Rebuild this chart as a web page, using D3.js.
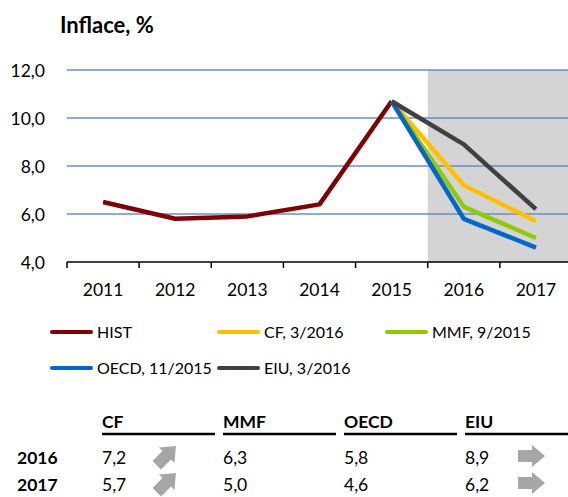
<!DOCTYPE html>
<html>
<head>
<meta charset="utf-8">
<script src="https://cdn.jsdelivr.net/npm/d3@7"></script>
<style>
  body { margin: 0; background: #fff; }
  svg { display: block; font-family: Lato, "Open Sans", sans-serif; }
</style>
</head>
<body>
<svg width="568" height="497"></svg>
<script>
// data
const years = ["2011", "2012", "2013", "2014", "2015", "2016", "2017"];
const histYears = ["2011", "2012", "2013", "2014", "2015"];
const histValues = [6.5, 5.8, 5.9, 6.4, 10.7];
const fcYears = ["2015", "2016", "2017"];
const cfValues = [10.7, 7.2, 5.7];
const mmfValues = [10.7, 6.3, 5.0];
const oecdValues = [10.7, 5.8, 4.6];
const eiuValues = [10.7, 8.9, 6.2];
const seriesNames = ["HIST", "CF, 3/2016", "MMF, 9/2015", "OECD, 11/2015", "EIU, 3/2016"];
const seriesColors = ["#7f0000", "#ffc000", "#92c800", "#0066cc", "#404040"];
const yTicks = [4, 6, 8, 10, 12];
const tableCols = ["CF", "MMF", "OECD", "EIU"];
const tableRows = ["2016", "2017"];
const table2016 = [7.2, 6.3, 5.8, 8.9];
const table2017 = [5.7, 5.0, 4.6, 6.2];
// arrow per column: angle in degrees, null = none
const arrowAngles = [-45, null, null, 0];

const loc = d3.formatLocale({ decimal: ",", thousands: " ", grouping: [3], currency: ["", ""] });
const fmt = loc.format(".1f");

const svg = d3.select("svg");
const plot = { left: 67, right: 572, top: 70, bottom: 262 };

const x = d3.scaleBand().domain(years).range([plot.left, plot.right]);
const y = d3.scaleLinear().domain([4, 12]).range([plot.bottom, plot.top]);
const cx = d => x(d) + x.bandwidth() / 2;

// title
svg.append("text")
  .attr("x", 60).attr("y", 33)
  .attr("font-weight", "bold").attr("font-size", 22)
  .text("Inflace, %");

// forecast shading
svg.append("rect")
  .attr("x", x("2016")).attr("y", plot.top)
  .attr("width", plot.right - x("2016")).attr("height", plot.bottom - plot.top)
  .attr("fill", "#d4d4d4");

// gridlines
svg.append("g").selectAll("line")
  .data(yTicks.filter(d => d > 4))
  .join("line")
  .attr("x1", plot.left).attr("x2", plot.right)
  .attr("y1", d => y(d)).attr("y2", d => y(d))
  .attr("stroke", "#6a8fc6").attr("stroke-width", 1.5);

// y labels
const yAxis = svg.append("g")
  .attr("transform", "translate(" + (plot.left - 19) + ",0)")
  .call(d3.axisLeft(y).tickValues(yTicks).tickSize(0).tickFormat(fmt));
yAxis.select(".domain").remove();
yAxis.selectAll("text").attr("font-size", 17.5).attr("font-family", "Lato").attr("fill", "#000").attr("dy", "0.35em");

// x axis
const xAxis = svg.append("g")
  .attr("transform", "translate(0," + plot.bottom + ")")
  .call(d3.axisBottom(x).tickSize(0).tickPadding(22));
xAxis.select(".domain").remove();
xAxis.selectAll("text").attr("font-size", 17.5).attr("font-family", "Lato").attr("fill", "#000");
svg.append("line")
  .attr("x1", plot.left).attr("x2", plot.right)
  .attr("y1", plot.bottom).attr("y2", plot.bottom)
  .attr("stroke", "#000").attr("stroke-width", 1.5);
svg.append("g").selectAll("line")
  .data(years)
  .join("line")
  .attr("x1", d => x(d)).attr("x2", d => x(d))
  .attr("y1", plot.bottom).attr("y2", plot.bottom + 6)
  .attr("stroke", "#000").attr("stroke-width", 1.5);

// lines
const line = d3.line().x(d => cx(d[0])).y(d => y(d[1]));
const seriesData = [
  histYears.map((d, i) => [d, histValues[i]]),
  fcYears.map((d, i) => [d, cfValues[i]]),
  fcYears.map((d, i) => [d, mmfValues[i]]),
  fcYears.map((d, i) => [d, oecdValues[i]]),
  fcYears.map((d, i) => [d, eiuValues[i]])
];
svg.append("g").selectAll("path")
  .data(seriesData)
  .join("path")
  .attr("d", line)
  .attr("fill", "none")
  .attr("stroke", (d, i) => seriesColors[i])
  .attr("stroke-width", 4.5)
  .attr("stroke-linejoin", "round");

// legend
const legendPos = [[50, 332], [217, 332], [385, 332], [50, 368], [217, 368]];
const leg = svg.append("g").selectAll("g")
  .data(seriesNames)
  .join("g")
  .attr("transform", (d, i) => "translate(" + legendPos[i][0] + "," + legendPos[i][1] + ")");
leg.append("line")
  .attr("x1", 2).attr("x2", 41)
  .attr("stroke", (d, i) => seriesColors[i])
  .attr("stroke-width", 4).attr("stroke-linecap", "round");
leg.append("text")
  .attr("x", 47).attr("dy", "0.35em")
  .attr("font-size", 16)
  .text(d => d);

// table
const colX = [102, 223, 344, 465];
const tbl = svg.append("g");
tbl.selectAll(".hdr")
  .data(tableCols)
  .join("text")
  .attr("class", "hdr")
  .attr("x", (d, i) => colX[i]).attr("y", 428)
  .attr("font-weight", "bold").attr("font-size", 17.5)
  .text(d => d);
tbl.selectAll(".ul")
  .data(tableCols)
  .join("line")
  .attr("class", "ul")
  .attr("x1", (d, i) => colX[i])
  .attr("x2", (d, i) => i < colX.length - 1 ? colX[i + 1] - 8 : 568)
  .attr("y1", 434).attr("y2", 434)
  .attr("stroke", "#000").attr("stroke-width", 2.5);

const rowY = [464, 491];
const rowVals = [table2016, table2017];
tableRows.forEach((r, ri) => {
  tbl.append("text")
    .attr("x", 17).attr("y", rowY[ri])
    .attr("font-weight", "bold").attr("font-size", 17.5)
    .text(r);
  tbl.selectAll(".v" + ri)
    .data(rowVals[ri])
    .join("text")
    .attr("x", (d, i) => colX[i]).attr("y", rowY[ri])
    .attr("font-size", 17.5)
    .text(d => fmt(d));
});

// block arrows
const arrowShape = "M-13,-6 L1,-6 L1,-11 L14,0 L1,11 L1,6 L-13,6 Z";
const arrowX = [166, null, null, 531];
tableRows.forEach((r, ri) => {
  arrowAngles.forEach((a, i) => {
    if (a === null) return;
    tbl.append("path")
      .attr("d", arrowShape)
      .attr("fill", "#a6a6a6")
      .attr("transform", "translate(" + arrowX[i] + "," + (rowY[ri] - 8) + ") rotate(" + a + ")");
  });
});
</script>
</body>
</html>
